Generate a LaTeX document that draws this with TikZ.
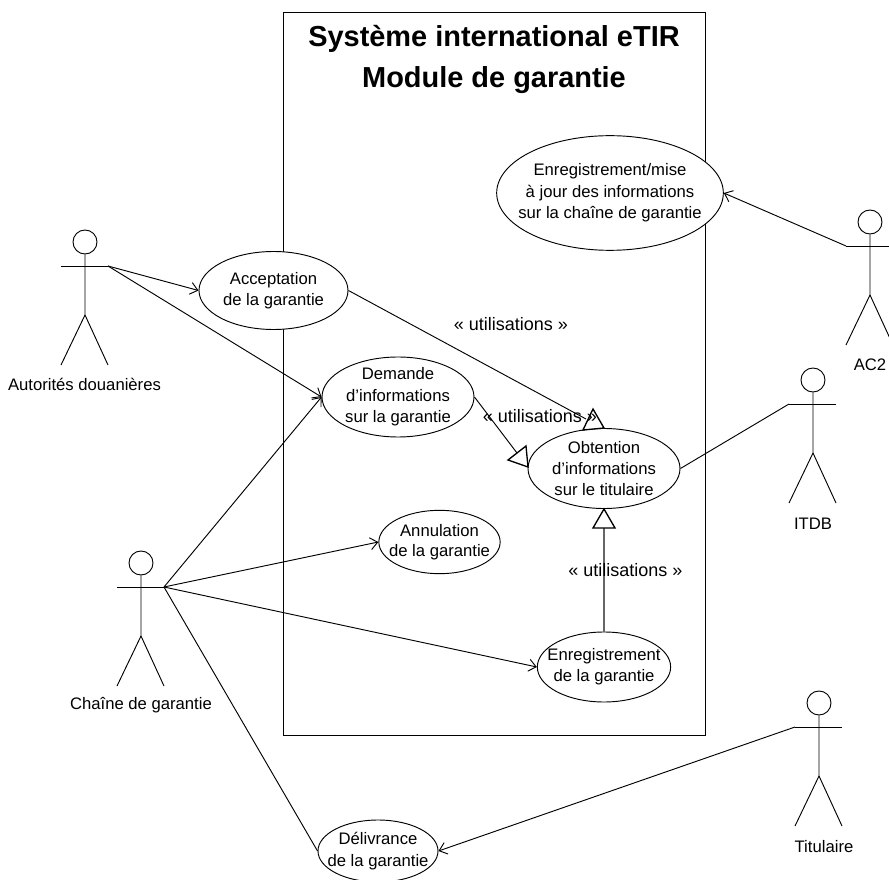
\documentclass[tikz,border=0pt]{standalone}
\usepackage{fontspec}
\setmainfont{Liberation Sans}
\usetikzlibrary{arrows.meta,shapes.geometric}
\tikzset{
 uc/.style={draw=black,fill=white,ellipse,inner sep=-30pt,line width=0.7pt,align=center,font=\fontsize{12.5pt}{16pt}\selectfont},
 lbl/.style={font=\fontsize{12.5pt}{16pt}\selectfont,inner sep=0pt,align=center},
 stereo/.style={font=\fontsize{13.5pt}{16pt}\selectfont,inner sep=0pt,align=center},
 assoc/.style={draw=black,line width=0.7pt},
 nav/.style={assoc,-{Straight Barb[length=5.5pt,width=9pt,line width=0.7pt]}},
 gen/.style={draw=black,fill=white,line width=1pt,line join=miter},
 sysbox/.style={draw=black,line width=1pt,fill=white},
 act/.style={draw=black,line width=0.7pt}
}
\newcommand{\actor}[3]{% name, x, y of head centre
 \node[draw=black,circle,minimum size=18pt,inner sep=0pt,line width=0.7pt] (#1head) at (#2,#3) {};
 \coordinate (#1l) at (#2-24,#3+24);
 \coordinate (#1r) at (#2+23,#3+24);
 \coordinate (#1hip) at (#2,#3+73);
 \coordinate (#1fl) at (#2-24,#3+123);
 \coordinate (#1fr) at (#2+23,#3+123);
 \draw[act] (#1head.south) -- (#1hip) -- (#1fl);
 \draw[act] (#1hip) -- (#1fr);
 \draw[act] (#1l) -- (#1r);
}
\begin{document}
\begin{tikzpicture}[x=0.75pt,y=-0.75pt]
\useasboundingbox (0,0) rectangle (889,880);
\node[sysbox,minimum width=316.5pt,minimum height=542pt,inner sep=0pt,anchor=north west] (sys) at (283,12) {};
\node[font=\bfseries\fontsize{21.7pt}{30.75pt}\selectfont,align=center,inner sep=0pt] (title) at (494,59) {Système international eTIR\\Module de garantie};

\actor{aut}{85}{242}
\actor{cha}{141}{563}
\actor{itd}{813}{380}
\actor{acd}{870}{222}
\actor{tit}{819}{703}

\node[uc,minimum width=111.75pt,minimum height=58.5pt] (acc) at (273.5,290.5) {Acceptation\\de la garantie};
\node[uc,minimum width=114pt,minimum height=60pt] (dem) at (398,397) {Demande\\d’informations\\sur la garantie};
\node[uc,minimum width=114pt,minimum height=60pt] (obt) at (604,468.5) {Obtention\\d’informations\\sur le titulaire};
\node[uc,minimum width=91pt,minimum height=47.5pt,font=\fontsize{12.5pt}{15pt}\selectfont] (ann) at (439.5,542) {Annulation\\de la garantie};
\node[uc,minimum width=100pt,minimum height=52.5pt] (enr) at (604,667) {Enregistrement\\de la garantie};
\node[uc,minimum width=90pt,minimum height=46.5pt] (del) at (378,851) {Délivrance\\de la garantie};
\node[uc,minimum width=170pt,minimum height=86pt] (maj) at (610,193) {Enregistrement/mise\\à jour des informations\\sur la chaîne de garantie};

\draw[nav] (autr) -- (acc.west);
\draw[nav] (autr) -- (dem.west);
\draw[nav] (char) -- (dem.west);
\draw[nav] (char) -- (ann.west);
\draw[nav] (char) -- (enr.west);
\draw[assoc] (char) -- (del.west);
\draw[nav] (titl) -- (del.east);
\draw[nav] (acdl) -- (maj.east);
\draw[assoc] (itdl) -- (obt.east);

% generalisations
\coordinate (g1a) at (593,409); \coordinate (g1b) at (583,430); \coordinate (g1c) at (604,428);
\coordinate (g2a) at (528,467); \coordinate (g2b) at (508,460); \coordinate (g2c) at (526,446);
\coordinate (g3a) at (604,509); \coordinate (g3b) at (593,528); \coordinate (g3c) at (615,528);
\coordinate (g1m) at (586,419); \coordinate (g2m) at (517,453); \coordinate (g3m) at (604,528);
\draw[assoc] (acc.east) -- (g1m);
\draw[assoc] (dem.east) -- (g2m);
\draw[draw=black!60,line width=1.2pt] (enr.north) -- (g3m);
\draw[gen] (g1a) -- (g1b) -- (g1c) -- cycle;
\draw[gen] (g2a) -- (g2b) -- (g2c) -- cycle;
\draw[gen] (g3a) -- (g3b) -- (g3c) -- cycle;

\node[stereo] (u1) at (511,324) {« utilisations »};
\node[stereo] (u2) at (540,416) {« utilisations »};
\node[stereo] (u3) at (625.5,570) {« utilisations »};

\node[lbl] (n1) at (84.5,384) {Autorités douanières};
\node[lbl] (n2) at (141,705) {Chaîne de garantie};
\node[lbl] (n3) at (813,524) {ITDB};
\node[lbl] (n4) at (870,365) {AC2};
\node[lbl] (n5) at (824,847) {Titulaire};
\end{tikzpicture}
\end{document}
